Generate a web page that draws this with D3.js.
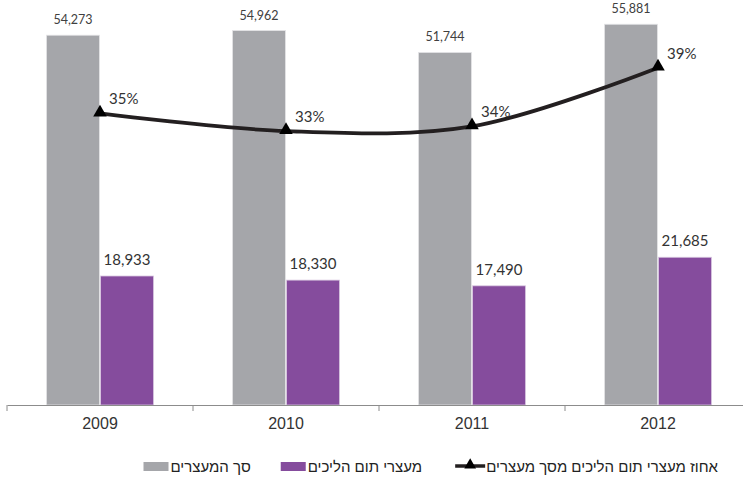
<!DOCTYPE html>
<html><head><meta charset="utf-8">
<script src="https://cdn.jsdelivr.net/npm/d3@7"></script>
<style>
html,body{margin:0;padding:0;background:#fff;}
svg{display:block;}
</style></head>
<body>
<svg id="chart" width="743" height="482"></svg>
<script>
const years = ["2009", "2010", "2011", "2012"];
const totalArrests = [54273, 54962, 51744, 55881];
const trialArrests = [18933, 18330, 17490, 21685];
const pctOfTotal = [0.349, 0.334, 0.338, 0.388];
const seriesNames = ["סך המעצרים", "מעצרי תום הליכים", "אחוז מעצרי תום הליכים מסך מעצרים"];

const W = 743, H = 482;
const svg = d3.select("#chart");
const colors = {total: "#a5a6aa", trial: "#854c9d", line: "#231f20"};
const numFont = "Lato, 'Open Sans', sans-serif";
const axFont = "'Liberation Sans', Arial, sans-serif";

const x0 = d3.scaleBand().domain(years).range([7, 751]).paddingInner(0).paddingOuter(0);
const x1 = d3.scaleBand().domain(["total", "trial"]).range([0, x0.bandwidth()])
  .paddingInner(0.02).paddingOuter(0.73);
const y = d3.scaleLinear().domain([0, 59000]).range([405, 3]);
const yPct = d3.scaleLinear().domain([0.30, 0.40]).range([171, 53.6]);

const data = years.map((yr, i) => ({year: yr, total: totalArrests[i], trial: trialArrests[i], pct: pctOfTotal[i]}));

// bars
const g = svg.append("g");
const groups = g.selectAll("g.grp").data(data).join("g").attr("class", "grp")
  .attr("transform", d => `translate(${x0(d.year)},0)`);

groups.append("rect")
  .attr("x", x1("total")).attr("width", x1.bandwidth())
  .attr("y", d => y(d.total)).attr("height", d => y(0) - y(d.total))
  .attr("fill", colors.total).attr("stroke", "#e4e4e6").attr("stroke-width", 0.8);
groups.append("rect")
  .attr("x", x1("trial")).attr("width", x1.bandwidth())
  .attr("y", d => y(d.trial)).attr("height", d => y(0) - y(d.trial))
  .attr("fill", colors.trial).attr("stroke", "#d9c8e0").attr("stroke-width", 0.8);

const fmt = d3.format(",");
groups.append("text")
  .attr("x", x1("total") + x1.bandwidth() / 2)
  .attr("y", d => y(d.total) - 11)
  .attr("text-anchor", "middle")
  .attr("font-family", numFont).attr("font-size", 12.5).attr("fill", "#404040")
  .text(d => fmt(d.total));
groups.append("text")
  .attr("x", x1("trial") + x1.bandwidth() / 2)
  .attr("y", d => y(d.trial) - 11)
  .attr("text-anchor", "middle")
  .attr("font-family", numFont).attr("font-size", 15).attr("fill", "#333")
  .text(d => fmt(d.trial));

// axis
const axis = d3.axisBottom(x0).tickSize(0).tickPadding(13);
const axG = svg.append("g").attr("transform", `translate(0,${y(0)})`).call(axis);
axG.select(".domain").attr("stroke", "#8c8c8c").attr("stroke-width", 1);
axG.selectAll(".tick text").attr("font-family", axFont).attr("font-size", 16).attr("fill", "#333");
const bounds = years.map(yr => x0(yr)).concat([x0(years[years.length - 1]) + x0.bandwidth()]);
axG.selectAll("line.bd").data(bounds).join("line").attr("class", "bd")
  .attr("x1", d => d).attr("x2", d => d).attr("y1", 0).attr("y2", 6)
  .attr("stroke", "#8c8c8c");

// line
const cx = d => x0(d.year) + x0.bandwidth() / 2;
const line = d3.line().x(cx).y(d => yPct(d.pct)).curve(d3.curveCatmullRom.alpha(0.5));
svg.append("path").datum(data).attr("d", line)
  .attr("fill", "none").attr("stroke", colors.line).attr("stroke-width", 3.8);
const tri = d3.symbol().type(d3.symbolTriangle).size(80);
svg.selectAll("path.mk").data(data).join("path").attr("class", "mk")
  .attr("d", tri).attr("transform", d => `translate(${cx(d)},${yPct(d.pct) - 1})`)
  .attr("fill", "#000");
const pfmt = d3.format(".0%");
svg.selectAll("text.pl").data(data).join("text").attr("class", "pl")
  .attr("x", d => cx(d) + 9).attr("y", d => yPct(d.pct) - 9)
  .attr("font-family", numFont).attr("font-size", 15).attr("fill", "#333")
  .text(d => pfmt(d.pct));

// legend (right to left)
const leg = svg.append("g").attr("transform", "translate(0,466)");
let xr = 718;
const legendFont = axFont;
seriesNames.slice().reverse().forEach((name, idx) => {
  const key = ["line", "trial", "total"][idx];
  const t = leg.append("text").attr("x", xr).attr("y", 5.5)
    .attr("text-anchor", "end").attr("font-family", legendFont).attr("font-size", 15)
    .attr("fill", "#222").text(name);
  const tw = t.node().getComputedTextLength();
  const left = xr - tw;
  if (key === "line") {
    leg.append("line").attr("x1", left - 31).attr("x2", left - 1).attr("y1", 0).attr("y2", 0)
      .attr("stroke", colors.line).attr("stroke-width", 3.5);
    leg.append("path").attr("d", d3.symbol().type(d3.symbolTriangle).size(60)())
      .attr("transform", `translate(${left - 16},-1)`).attr("fill", "#000");
    xr = left - 32 - 32;
  } else {
    leg.append("rect").attr("x", left - 27).attr("y", -4).attr("width", 25).attr("height", 9)
      .attr("fill", colors[key]);
    xr = left - 27 - 30;
  }
});
</script>
</body></html>
